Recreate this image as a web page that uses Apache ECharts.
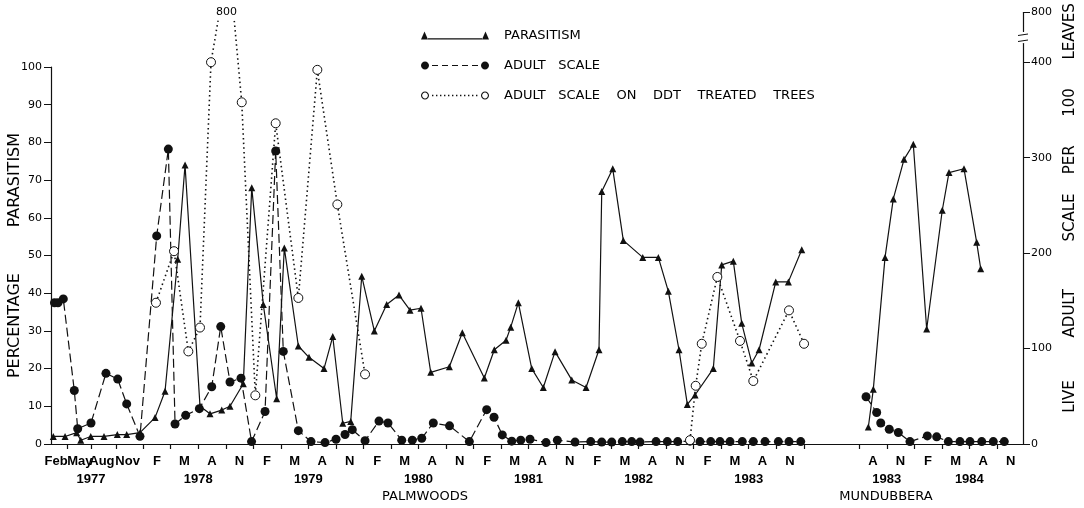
<!DOCTYPE html>
<html>
<head>
<meta charset="utf-8">
<title>Parasitism and adult scale, Palmwoods and Mundubbera</title>
<script src="https://cdn.jsdelivr.net/npm/echarts@6.0.0/dist/echarts.min.js"></script>
<style>
  html, body { margin: 0; padding: 0; background: #fff; }
  #chart { width: 1084px; height: 508px; }
</style>
</head>
<body>
<div id="chart"></div>
<script>
// x = month position on the plot (Palmwoods: Jan 1977 = 0, Mundubbera: Jan 1983 = 0)
var palParasX = [1.70, 2.98, 4.25, 4.69, 5.78, 7.23, 8.68, 9.70, 11.15,
  12.79, 13.88, 15.26, 16.06, 17.69, 18.78, 20.06, 20.96, 22.41, 23.33, 24.59, 26.05,
  26.88, 28.41, 29.57, 31.21, 32.16, 33.25, 34.12, 35.32,
  36.69, 38.04, 39.38, 40.58, 41.78, 42.84, 44.87, 46.28,
  48.68, 49.77, 51.05, 51.56, 52.39, 53.85, 55.11, 56.39, 58.21, 59.77,
  61.18, 61.48, 62.68, 63.83, 65.95, 67.65, 68.74, 69.90, 70.81, 71.65,
  73.64, 74.56, 75.82, 76.74, 77.83, 78.63, 80.45, 81.82, 83.28];
var palParasY = [2, 2, 3, 1, 2, 2, 2.5, 2.5, 3,
  7, 14, 49, 74, 10, 8, 9, 10, 16, 68, 37, 12,
  52, 26, 23, 20, 28.5, 5.5, 6, 44.5,
  30, 37, 39.5, 35.5, 36, 19, 20.5, 29.5,
  17.5, 25, 27.5, 31, 37.5, 20, 15, 24.5, 17, 15,
  25, 67, 73, 54, 49.5, 49.5, 40.5, 25, 10.5, 13,
  20, 47.5, 48.5, 32, 21.5, 25, 43, 43, 51.5];

var palScaleX = [1.83, 2.21, 2.79, 3.99, 4.36, 5.81, 7.44, 8.72, 9.70, 11.15,
  12.97, 14.24, 14.97, 16.13, 17.62, 18.97, 19.95, 20.96, 22.16, 23.31,
  24.78, 25.94, 26.77, 28.41, 29.79, 31.32, 32.52, 33.50, 34.29, 35.68,
  37.20, 38.18, 39.68, 40.83, 41.86, 43.12, 44.89, 47.05, 48.94, 49.74,
  50.64, 51.67, 52.65, 53.66, 55.41, 56.64, 58.57,
  60.28, 61.48, 62.57, 63.72, 64.75, 65.65, 67.40, 68.63, 69.76, 71.10,
  72.19, 73.36, 74.37, 75.46, 76.80, 78.00, 79.28, 80.73, 81.89, 83.17];
var palScaleY = [148, 148, 152, 56, 16, 22, 74, 68, 42, 8,
  218, 309, 21, 30, 37, 60, 123, 65, 69, 2.5,
  34, 307, 97, 14, 2.5, 1.5, 5, 10, 15, 3.5,
  24, 22, 4, 4, 6, 22, 19, 2.5, 36, 28,
  9.5, 3, 4, 5, 1.5, 4, 2,
  2.5, 2, 2, 2.5, 2.5, 2, 2.5, 2.5, 2.5, 3,
  2.5, 2.5, 2.5, 2.5, 2.5, 2.5, 2.5, 2.5, 2.5, 2.5];

// '-' = no sample (line broken)
var palDdtX = [12.89, 14.86, 16.42, 17.69, 18.89, 19.82, 21.34, 22.24, 23.72, 25.94,
  28.41, 30.48, 32.66, 35.68, 50,
  71.10, 71.72, 72.38, 74.08, 76.55, 78.00, 81.89, 83.53];
var palDdtY = [148, 202, 97, 122, 400, 800, 800, 358, 51, 336,
  153, 392, 251, 73, '-',
  4, 61, 105, 175, 108, 66, 140, 105];

var munParasX = [6.49, 7.03, 8.31, 9.21, 10.38, 11.39, 12.85, 14.55, 15.28, 16.92, 18.30, 18.74];
var munParasY = [4.5, 14.5, 49.5, 65, 75.5, 79.5, 30.5, 62, 72, 73, 53.5, 46.5];

var munScaleX = [6.24, 7.40, 7.84, 8.77, 9.76, 11.03, 12.92, 13.94, 15.21, 16.48, 17.57, 18.85, 20.11, 21.31];
var munScaleY = [49.5, 33, 22, 15.5, 12, 2.5, 8.5, 7.5, 2.5, 2.5, 2.5, 2.5, 2.5, 2.5];

// axis labels
var palMonthPos = [2.0, 4.6, 7.0, 9.8, 13, 16, 19, 22, 25, 28, 31, 34, 37, 40, 43, 46,
  49, 52, 55, 58, 61, 64, 67, 70, 73, 76, 79, 82];
var palMonthText = ['Feb', 'May', 'Aug', 'Nov',
  'F', 'M', 'A', 'N', 'F', 'M', 'A', 'N', 'F', 'M', 'A', 'N',
  'F', 'M', 'A', 'N', 'F', 'M', 'A', 'N', 'F', 'M', 'A', 'N'];
var palTickPos = [3.2, 5.8, 8.6, 11.5, 14.5, 17.5, 20.5, 23.5, 26.5, 29.5, 32.5, 35.5,
  38.5, 41.5, 44.5, 47.5, 50.5, 53.5, 56.5, 59.5, 62.5, 65.5, 68.5, 71.5, 74.5,
  77.5, 80.5, 83.5];
var palYearPos = [5.8, 17.5, 29.5, 41.5, 53.5, 65.5, 77.5];
var palYearText = ['1977', '1978', '1979', '1980', '1981', '1982', '1983'];

var munMonthPos = [7, 10, 13, 16, 19, 22];
var munMonthText = ['A', 'N', 'F', 'M', 'A', 'N'];
var munTickPos = [5.5, 8.5, 11.5, 14.5, 17.5, 20.5];
var munYearPos = [8.5, 17.5];
var munYearText = ['1983', '1984'];

var rightTicks = [0, 100, 200, 300, 400, 800];

var nameParas = 'PARASITISM';
var nameScale = 'ADULT   SCALE';
var nameDdt = 'ADULT   SCALE    ON    DDT    TREATED    TREES';

function pairs(xs, ys) {
  var out = [];
  for (var i = 0; i < xs.length; i++) out.push([xs[i], ys[i]]);
  return out;
}

// off-scale samples (800) get no visible marker, value written once
function ddtData(xs, ys) {
  var labelled = false;
  return xs.map(function (x, i) {
    if (ys[i] !== '-' && ys[i] >= 800) {
      var item = { value: [x, ys[i]], symbolSize: 1, itemStyle: { color: '#fff', borderWidth: 0 } };
      if (!labelled) {
        labelled = true;
        item.label = {
          show: true, position: 'inside', offset: [7, 0],
          formatter: function (p) { return p.value[1]; },
          fontSize: 11, color: '#000', fontFamily: 'DejaVu Sans',
          backgroundColor: '#fff', padding: [3, 2]
        };
      }
      return item;
    }
    return [x, ys[i]];
  });
}

function lookup(pos, text) {
  return function (v) {
    for (var i = 0; i < pos.length; i++) {
      if (Math.abs(pos[i] - v) < 1e-6) return text[i];
    }
    return '';
  };
}

// every other label, so close neighbours (Feb/May/Aug/Nov) sit on different axes
function alternate(list, odd) {
  return list.filter(function (v, i) { return i % 2 === (odd ? 1 : 0); });
}

function circlePath(cx, cy, r, ccw) {
  var n = 16, s = '';
  for (var k = 0; k <= n; k++) {
    var a = (ccw ? -1 : 1) * k / n * Math.PI * 2;
    s += (k ? 'L' : 'M') + (cx + r * Math.cos(a)).toFixed(2) + ' ' + (cy + r * Math.sin(a)).toFixed(2);
  }
  return s + 'Z';
}

function legendIcons() {
  var paras = 'path://M0 8L3.5 0L7 8Z M7 6.8L61 6.8L61 8L7 8Z M61 8L64.5 0L68 8Z';
  var scale = 'path://' + circlePath(4, 4, 4) + circlePath(64, 4, 4);
  for (var x = 11; x < 57; x += 10) {
    scale += 'M' + x + ' 3.4L' + (x + 6) + ' 3.4L' + (x + 6) + ' 4.6L' + x + ' 4.6Z';
  }
  var ddt = 'path://' + circlePath(4, 4, 4) + circlePath(4, 4, 2.9, true) +
    circlePath(64, 4, 4) + circlePath(64, 4, 2.9, true);
  for (var d = 11; d < 59; d += 4) {
    ddt += 'M' + d + ' 3.3L' + (d + 1.4) + ' 3.3L' + (d + 1.4) + ' 4.7L' + d + ' 4.7Z';
  }
  return [paras, scale, ddt];
}

var ink = '#111';
var labelFont = "'Liberation Sans Narrow', 'Liberation Sans', sans-serif";

function monthAxis(grid, min, max, ticks, pos, text, withLine) {
  return {
    type: 'value', gridIndex: grid, min: min, max: max, position: 'bottom',
    axisLine: { show: withLine, onZero: false, lineStyle: { color: ink, width: 1.2 } },
    axisTick: { show: withLine, customValues: ticks, length: 5, lineStyle: { color: ink, width: 1.2 } },
    axisLabel: {
      customValues: pos, formatter: lookup(pos, text), margin: 11, hideOverlap: false,
      showMinLabel: true, showMaxLabel: true,
      color: '#000', fontSize: 13, fontWeight: 'bold', fontFamily: labelFont
    },
    splitLine: { show: false }
  };
}

function yearAxis(grid, min, max, pos, text, place, shift) {
  return {
    type: 'value', gridIndex: grid, min: min, max: max, position: 'bottom',
    axisLine: { show: false }, axisTick: { show: false },
    axisLabel: {
      customValues: pos, formatter: lookup(pos, text), margin: 29, hideOverlap: false,
      color: '#000', fontSize: 13, fontWeight: 'bold', fontFamily: labelFont
    },
    splitLine: { show: false },
    name: place, nameLocation: 'middle', nameGap: 46, nameMoveOverlap: false,
    nameTextStyle: { color: '#000', fontSize: 13, fontFamily: 'DejaVu Sans', padding: [0, shift, 0, 0] }
  };
}

function hiddenX(grid, min, max) {
  return { type: 'value', gridIndex: grid, min: min, max: max, show: false, splitLine: { show: false } };
}

var scaleBreaks = [{ start: 420, end: 780, gap: 12.6 }];

var icons = legendIcons();

var chart = echarts.init(document.getElementById('chart'), null, { renderer: 'canvas' });

var palMin = 1.45, palMax = 86.36, munMin = 2.31, munMax = 23.35;

var option = {
  animation: false,
  backgroundColor: '#fff',
  grid: [
    { left: 51, top: 67, width: 779, bottom: 64, outerBoundsMode: 'none' },
    { left: 51, top: 12, width: 779, bottom: 64, outerBoundsMode: 'none' },
    { left: 830, top: 67, width: 193, bottom: 64, outerBoundsMode: 'none' },
    { left: 830, top: 12, width: 193, bottom: 64, outerBoundsMode: 'none' }
  ],
  legend: {
    orient: 'vertical', left: 421, top: 29, padding: 0,
    itemWidth: 68, itemHeight: 8, itemGap: 17,
    selectedMode: false,
    itemStyle: { color: ink, borderWidth: 0 },
    textStyle: { color: '#000', fontSize: 13, fontFamily: 'DejaVu Sans', padding: [0, 0, 0, 10] },
    data: [
      { name: nameParas, icon: icons[0] },
      { name: nameScale, icon: icons[1] },
      { name: nameDdt, icon: icons[2] }
    ]
  },
  xAxis: [
    monthAxis(0, palMin, palMax, palTickPos, alternate(palMonthPos, false), alternate(palMonthText, false), true),
    yearAxis(0, palMin, palMax, palYearPos, palYearText, 'PALMWOODS', 31),
    hiddenX(1, palMin, palMax),
    monthAxis(2, munMin, munMax, munTickPos, munMonthPos, munMonthText, true),
    yearAxis(2, munMin, munMax, munYearPos, munYearText, 'MUNDUBBERA', 81),
    hiddenX(3, munMin, munMax),
    monthAxis(0, palMin, palMax, palTickPos, alternate(palMonthPos, true), alternate(palMonthText, true), false)
  ],
  yAxis: [
    {
      type: 'value', gridIndex: 0, position: 'left', min: 0, max: 100, interval: 10,
      axisLine: { show: true, onZero: false, lineStyle: { color: ink, width: 1.2 } },
      axisTick: { show: true, length: 7, lineStyle: { color: ink, width: 1 } },
      axisLabel: { margin: 9, color: '#000', fontSize: 11, fontFamily: 'DejaVu Sans', padding: [0, 0, 4, 0] },
      splitLine: { show: false },
      name: 'PERCENTAGE         PARASITISM', nameLocation: 'middle', nameRotate: 90, nameGap: 28,
      nameMoveOverlap: false,
      nameTextStyle: { color: '#000', fontSize: 16, fontFamily: 'DejaVu Sans' }
    },
    {
      type: 'value', gridIndex: 1, min: 0, max: 800, show: false,
      breaks: scaleBreaks, breakArea: { show: false }, splitLine: { show: false }
    },
    { type: 'value', gridIndex: 2, min: 0, max: 100, show: false, splitLine: { show: false } },
    {
      type: 'value', gridIndex: 3, position: 'right', min: 0, max: 800,
      breaks: scaleBreaks, breakArea: { show: false },
      axisLine: { show: true, onZero: false, lineStyle: { color: ink, width: 1.2 } },
      axisTick: { show: true, customValues: rightTicks, length: 7, lineStyle: { color: ink, width: 1 } },
      axisLabel: {
        customValues: rightTicks, margin: 8, color: '#000', fontSize: 11,
        fontFamily: 'DejaVu Sans', padding: [0, 0, 4, 0]
      },
      splitLine: { show: false },
      name: 'LIVE         ADULT          SCALE    PER      100      LEAVES',
      nameLocation: 'middle', nameRotate: 90, nameGap: 40, nameMoveOverlap: false,
      nameTextStyle: { color: '#000', fontSize: 15, fontFamily: 'DejaVu Sans', padding: [0, 0, 0, 40] }
    }
  ],
  series: [
    {
      name: nameParas, type: 'line', xAxisIndex: 0, yAxisIndex: 0,
      data: pairs(palParasX, palParasY),
      symbol: 'triangle', symbolSize: 7, clip: false,
      lineStyle: { color: ink, width: 1.2 }, itemStyle: { color: ink },
      emphasis: { disabled: true }, z: 3
    },
    {
      name: nameScale, type: 'line', xAxisIndex: 2, yAxisIndex: 1,
      data: pairs(palScaleX, palScaleY),
      symbol: 'circle', symbolSize: 9, clip: false,
      lineStyle: { color: ink, width: 1.2, type: [9, 4] }, itemStyle: { color: ink },
      emphasis: { disabled: true }, z: 2
    },
    {
      name: nameDdt, type: 'line', xAxisIndex: 2, yAxisIndex: 1,
      data: ddtData(palDdtX, palDdtY),
      symbol: 'circle', symbolSize: 9, clip: false, connectNulls: false,
      lineStyle: { color: ink, width: 1.6, type: [1.5, 3.2] },
      itemStyle: { color: '#fff', borderColor: ink, borderWidth: 1 },
      emphasis: { disabled: true }, z: 4
    },
    {
      name: nameParas, type: 'line', xAxisIndex: 3, yAxisIndex: 2,
      data: pairs(munParasX, munParasY),
      symbol: 'triangle', symbolSize: 7, clip: false,
      lineStyle: { color: ink, width: 1.2 }, itemStyle: { color: ink },
      emphasis: { disabled: true }, z: 3
    },
    {
      name: nameScale, type: 'line', xAxisIndex: 5, yAxisIndex: 3,
      data: pairs(munScaleX, munScaleY),
      symbol: 'circle', symbolSize: 9, clip: false,
      lineStyle: { color: ink, width: 1.2, type: [9, 4] }, itemStyle: { color: ink },
      emphasis: { disabled: true }, z: 2
    }
  ],
  // break marks on the right-hand axis
  graphic: [
    { type: 'rect', z: 100, shape: { x: 1019, y: 35, width: 9, height: 6 }, style: { fill: '#fff' } },
    { type: 'line', z: 101, shape: { x1: 1018, y1: 35.5, x2: 1028, y2: 34 }, style: { stroke: ink, lineWidth: 1 } },
    { type: 'line', z: 101, shape: { x1: 1018, y1: 41.5, x2: 1028, y2: 40 }, style: { stroke: ink, lineWidth: 1 } }
  ]
};

chart.setOption(option);
</script>
</body>
</html>
